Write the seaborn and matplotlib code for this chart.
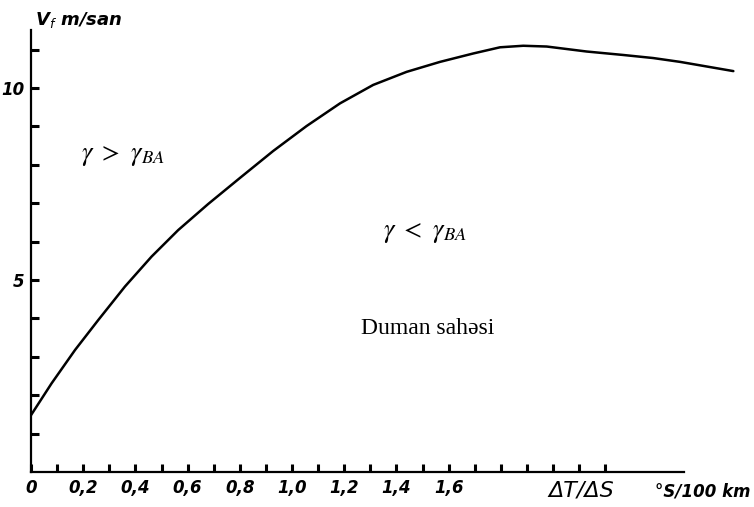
import matplotlib
matplotlib.use("Agg")
import matplotlib.pyplot as plt
import seaborn as sns
import pandas as pd

# data
x_vals = [0.000, 0.079, 0.169, 0.258, 0.360, 0.462, 0.564, 0.679, 0.801, 0.928, 1.056, 1.184,
          1.311, 1.439, 1.567, 1.695, 1.797, 1.886, 1.976, 2.129, 2.269, 2.384, 2.487, 2.691]
v_vals = [1.48, 2.31, 3.18, 3.96, 4.83, 5.61, 6.30, 6.98, 7.66, 8.36, 9.01, 9.60,
          10.08, 10.42, 10.68, 10.90, 11.06, 11.10, 11.08, 10.95, 10.86, 10.78, 10.68, 10.44]
x_tick_labels = ["0", "0,2", "0,4", "0,6", "0,8", "1,0", "1,2", "1,4", "1,6"]
x_tick_pos = [0.0, 0.2, 0.4, 0.6, 0.8, 1.0, 1.2, 1.4, 1.6]
y_tick_labels = ["5", "10"]
y_tick_pos = [5, 10]

df = pd.DataFrame({"x": x_vals, "v": v_vals})

sns.set_theme(style="white")
plt.rcParams["font.family"] = ["DejaVu Sans"]
plt.rcParams["text.color"] = "black"
plt.rcParams["xtick.color"] = "black"
plt.rcParams["ytick.color"] = "black"

fig = plt.figure(figsize=(7.54, 5.07), dpi=100)
W, H = 754, 507
x0, y0 = 31, 472
xu, yu = 261, 38.4
xmax, ymax = 2.75, 12.0
ax = fig.add_axes([x0 / W, (H - y0) / H, xmax * xu / W, ymax * yu / H])

sns.lineplot(data=df, x="x", y="v", ax=ax, color="black", linewidth=1.8, estimator=None, sort=False)

ax.set_xlim(0, xmax)
ax.set_ylim(0, ymax)
for s in ["top", "right"]:
    ax.spines[s].set_visible(False)
for s in ["left", "bottom"]:
    ax.spines[s].set_color("black")
    ax.spines[s].set_linewidth(1.6)
ax.spines["bottom"].set_bounds(0, 2.5)
ax.spines["left"].set_bounds(0, 11.5)

ax.set_xticks([i / 10 for i in range(1, 23)], minor=True)
ax.set_yticks(list(range(1, 12)), minor=True)
ax.set_xticks(x_tick_pos)
ax.set_xticklabels(x_tick_labels)
ax.set_yticks(y_tick_pos)
ax.set_yticklabels(y_tick_labels)
ax.tick_params(axis="both", which="both", direction="in", length=6, width=2.2, color="black",
               bottom=True, left=True, top=False, right=False)
ax.tick_params(axis="both", which="major", labelsize=12, pad=5, labelcolor="black")
for lbl in ax.get_xticklabels() + ax.get_yticklabels():
    lbl.set_fontweight("bold")
    lbl.set_fontstyle("italic")
ax.set_xlabel("")
ax.set_ylabel("")

serif = ["Liberation Serif", "DejaVu Serif"]
ax.text(0.19, 8.25, r"$\gamma\ >\ \gamma_{BA}$", fontsize=19, color="black", ha="left", va="center",
        math_fontfamily="stix")
ax.text(1.35, 6.25, r"$\gamma\ <\ \gamma_{BA}$", fontsize=19, color="black", ha="left", va="center",
        math_fontfamily="stix")
ax.text(1.52, 3.75, "Duman sahəsi", fontsize=17, family=serif, color="black", ha="center", va="center")

fig.text(35 / W, 1 - 20 / H, r"V$_f$ m/san", fontsize=13, fontweight="bold", fontstyle="italic",
         ha="left", va="center", color="black")
fig.text(548 / W, 1 - 491 / H, "ΔT/ΔS", fontsize=16, fontstyle="italic", ha="left", va="center",
         color="black")
fig.text(655 / W, 1 - 491 / H, "°S/100 km", fontsize=12, fontstyle="italic", fontweight="bold",
         ha="left", va="center", color="black")

fig.savefig("out.png", dpi=100, facecolor="white")
